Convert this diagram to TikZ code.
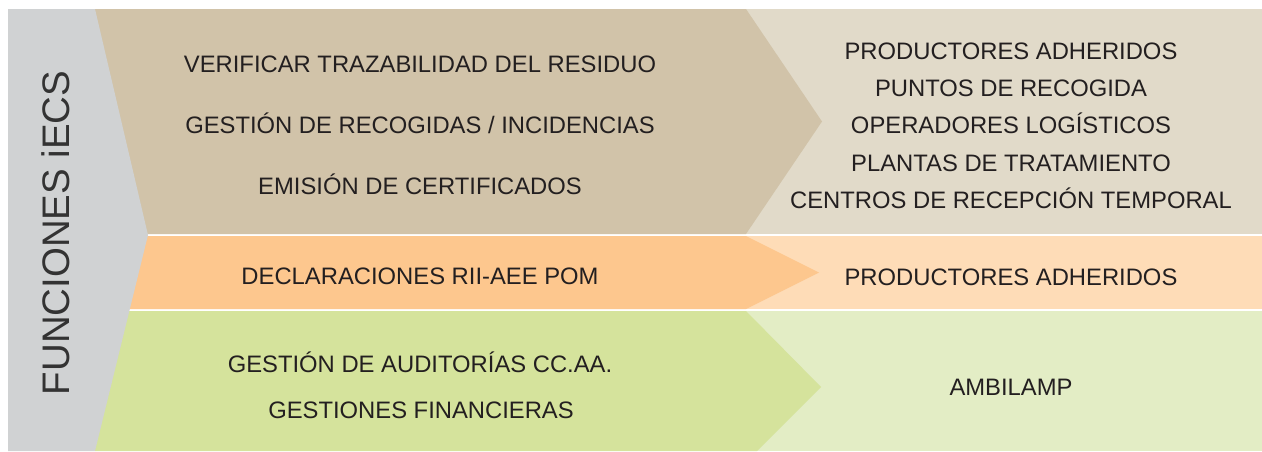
\documentclass[tikz,border=0pt]{standalone}
\usepackage{fontspec}
\setmainfont{Liberation Sans}
\usetikzlibrary{positioning}

\definecolor{grisfondo}{HTML}{D0D2D3}
\definecolor{beigeosc}{HTML}{D1C3A9}
\definecolor{beigecla}{HTML}{E1DAC9}
\definecolor{naranjaosc}{HTML}{FDC78E}
\definecolor{naranjacla}{HTML}{FEDCB7}
\definecolor{verdeosc}{HTML}{D5E39C}
\definecolor{verdecla}{HTML}{E3EDC5}
\definecolor{textoosc}{HTML}{231F20}

\begin{document}
\begin{tikzpicture}[x=0.5pt, y=-0.5pt,
  every node/.style={font=\fontsize{11.9}{14}\selectfont, text=textoosc,
    inner sep=0pt, text height=8.5pt, text depth=0pt},
  titulo/.style={rotate=90, font=\fontsize{19.2}{22}\selectfont,
    text=black!80, text height=13.7pt}]
\useasboundingbox (0,0) rectangle (1262,451);
\fill[white] (0,0) rectangle (1262,451);

% bandas de fondo
\fill[beigecla] (95,9) rectangle (1262,234);
\fill[naranjacla] (95,236) rectangle (1262,309);
\fill[verdecla] (95,311) rectangle (1262,451);

% flechas
\fill[beigeosc] (95,9) -- (746,9) -- (822,121.5) -- (746,234) -- (95,234) -- cycle;
\fill[naranjaosc] (95,236) -- (746,236) -- (819,272.5) -- (746,309) -- (95,309) -- cycle;
\fill[verdeosc] (95,311) -- (746,311) -- (821,387) -- (757,451) -- (95,451) -- cycle;

% columna gris
\fill[grisfondo] (8,9) -- (95,9) -- (148,235) -- (95,451) -- (8,451) -- cycle;
\node[titulo] (funciones) at (56,233) {FUNCIONES iECS};

% funciones
\node (trazab)   at (420,64)  {VERIFICAR TRAZABILIDAD DEL RESIDUO};
\node (recogida) at (420,125) {GESTIÓN DE RECOGIDAS / INCIDENCIAS};
\node (certif)   at (420,186) {EMISIÓN DE CERTIFICADOS};
\node (declar)   at (420,276) {DECLARACIONES RII-AEE POM};
\node (auditor)  at (420,364) {GESTIÓN DE AUDITORÍAS CC.AA.};
\node (financ)   at (421,410) {GESTIONES FINANCIERAS};

% destinatarios
\node (prodA)    at (1011,51)  {PRODUCTORES ADHERIDOS};
\node (puntos)   at (1011,88)  {PUNTOS DE RECOGIDA};
\node (operad)   at (1011,125) {OPERADORES LOGÍSTICOS};
\node (plantas)  at (1011,162.5) {PLANTAS DE TRATAMIENTO};
\node (centros)  at (1011,200) {CENTROS DE RECEPCIÓN TEMPORAL};
\node (prodB)    at (1011,276.5) {PRODUCTORES ADHERIDOS};
\node (ambilamp) at (1011,387) {AMBILAMP};
\end{tikzpicture}
\end{document}
